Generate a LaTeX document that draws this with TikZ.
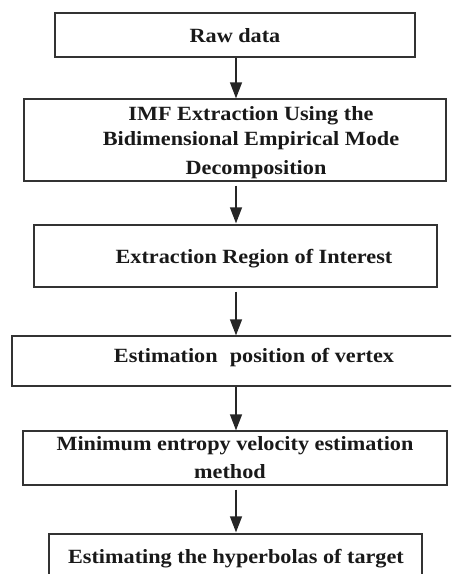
\documentclass[tikz,border=0pt]{standalone}
\usepackage{fontspec}
\setmainfont{Liberation Serif}
\usetikzlibrary{arrows.meta}
\newcommand{\stretchtxt}[1]{\scalebox{1.1}[1]{#1}}
\begin{document}
\begin{tikzpicture}[x=1pt,y=-1pt,
  box/.style={draw=black!80, line width=1.3pt, inner sep=0pt, rectangle},
  txt/.style={anchor=base, inner sep=0pt, text=black!90, font=\fontsize{20.2}{24}\selectfont\bfseries},
  arr/.style={draw=black!85, line width=1.3pt, -{Triangle[length=16pt,width=12pt]}}]
\useasboundingbox (0,0) rectangle (451,574);
\clip (0,0) rectangle (451,574);
\node[box, minimum width=360pt, minimum height=44pt] (b1) at (235,35) {};
\node[box, minimum width=422pt, minimum height=82pt] (b2) at (235,140) {};
\node[box, minimum width=403pt, minimum height=62pt] (b3) at (235.5,256) {};
\node[box, minimum width=446pt, minimum height=50pt] (b4) at (235,361) {};
\node[box, minimum width=424pt, minimum height=54pt] (b5) at (235,458) {};
\node[box, minimum width=373pt, minimum height=70pt] (b6) at (235.5,569) {};
\node[txt] (t1) at (235,42.7) {\stretchtxt{Raw data}};
\node[txt] (t2a) at (251,120) {\stretchtxt{IMF Extraction Using the}};
\node[txt] (t2b) at (251,145) {\stretchtxt{Bidimensional Empirical Mode}};
\node[txt] (t2c) at (256,174) {\stretchtxt{Decomposition}};
\node[txt] (t3) at (254,263) {\stretchtxt{Extraction Region of Interest}};
\node[txt] (t4) at (254,362) {\stretchtxt{Estimation\hspace{0.3em} position of vertex}};
\node[txt] (t5a) at (235,450) {\stretchtxt{Minimum entropy velocity estimation}};
\node[txt] (t5b) at (230,478) {\stretchtxt{method}};
\node[txt] (t6) at (236,563) {\stretchtxt{Estimating the hyperbolas of target}};
\draw[arr] ([xshift=1pt]b1.south) -- ([xshift=1pt]b1.south |- b2.north);
\draw[arr] ([xshift=1pt,yshift=-4pt]b2.south) -- ([xshift=1pt,yshift=1pt]b2.south |- b3.north);
\draw[arr] ([xshift=0.5pt,yshift=-4pt]b3.south) -- ([xshift=0.5pt]b3.south |- b4.north);
\draw[arr] ([xshift=1pt]b4.south) -- ([xshift=1pt]b4.south |- b5.north);
\draw[arr] ([xshift=1pt,yshift=-4pt]b5.south) -- ([xshift=1pt,yshift=1pt]b5.south |- b6.north);
\end{tikzpicture}
\end{document}
